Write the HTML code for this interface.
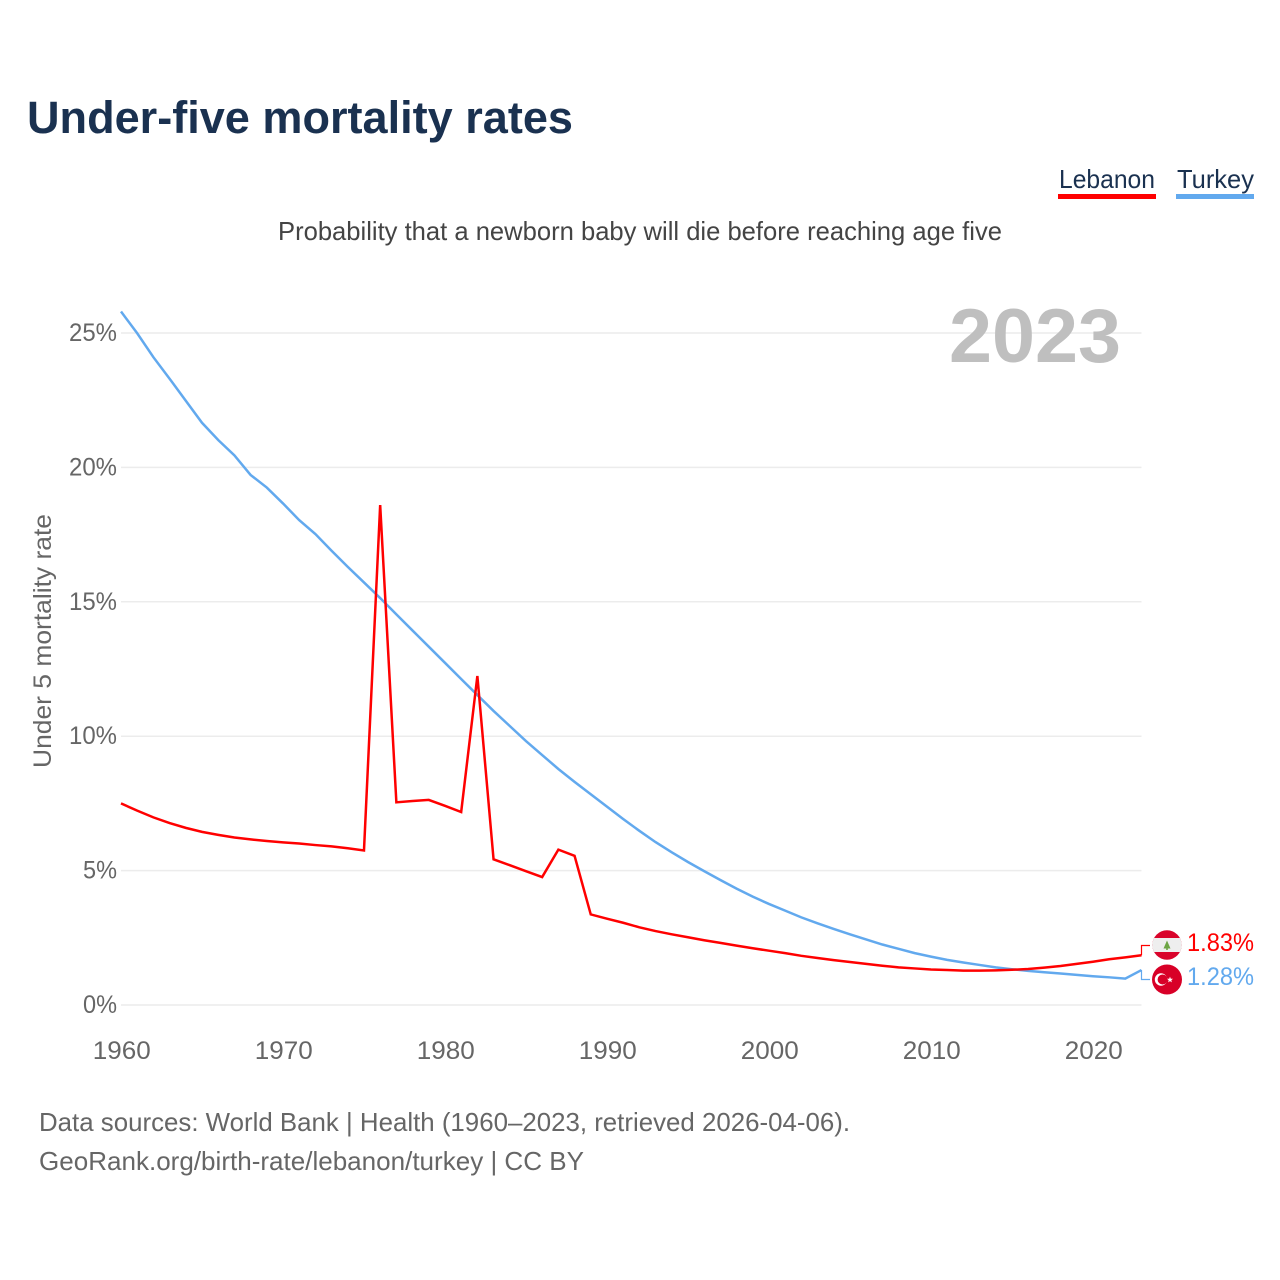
<!DOCTYPE html>
<html lang="en">
<head>
<meta charset="utf-8">
<title>Under-five mortality rates</title>
<style>
html,body{margin:0;padding:0;background:#fff;}
svg{display:block;font-family:"Liberation Sans",sans-serif;}
</style>
</head>
<body>
<svg id="chart" width="1280" height="1280" viewBox="0 0 1280 1280" xmlns="http://www.w3.org/2000/svg">
  <rect x="0" y="0" width="1280" height="1280" fill="#fff"/>
  <text x="27" y="133" font-size="45" font-weight="700" fill="#1a3150" textLength="546" lengthAdjust="spacingAndGlyphs">Under-five mortality rates</text>
  <g>
    <text x="1059" y="188" font-size="26" fill="#1a3150" textLength="96" lengthAdjust="spacingAndGlyphs">Lebanon</text>
    <rect x="1058" y="194" width="98" height="5" fill="#ff0000"/>
  </g>
  <g>
    <text x="1177" y="188" font-size="26" fill="#1a3150" textLength="77" lengthAdjust="spacingAndGlyphs">Turkey</text>
    <rect x="1176" y="194" width="78" height="5" fill="#62a9ee"/>
  </g>
  <text x="278" y="240" font-size="26" fill="#444" textLength="724" lengthAdjust="spacingAndGlyphs">Probability that a newborn baby will die before reaching age five</text>
  <g id="grid"></g>
  <text x="949" y="362" font-size="76" font-weight="700" fill="#bfbfbf" textLength="172" lengthAdjust="spacingAndGlyphs">2023</text>
  <g id="yTicks"></g>
  <g id="xTicks"></g>
  <text transform="translate(51,768) rotate(-90)" x="0" y="0" font-size="25" fill="#666" textLength="254" lengthAdjust="spacingAndGlyphs">Under 5 mortality rate</text>
  <path id="lineTurkey" fill="none" stroke="#62a9ee" stroke-width="2.5" stroke-linejoin="miter"/>
  <path id="lineLebanon" fill="none" stroke="#ff0000" stroke-width="2.5" stroke-linejoin="miter"/>
  <path id="leaderLebanon" fill="none" stroke="#ff0000" stroke-width="1.2"/>
  <path id="leaderTurkey" fill="none" stroke="#62a9ee" stroke-width="1.2"/>
  <defs>
    <clipPath id="lbClip"><circle cx="1167" cy="945" r="14.7"/></clipPath>
  </defs>
  <g clip-path="url(#lbClip)">
    <rect x="1150" y="930" width="34" height="30" fill="#d9042b"/>
    <rect x="1150" y="938" width="34" height="14" fill="#eeeeee"/>
    <path d="M1167 940.5 L1170.5 948.5 L1167.8 948.5 L1167.8 950 L1166.2 950 L1166.2 948.5 L1163.5 948.5 Z" fill="#6da544"/>
  </g>
  <g>
    <circle cx="1167" cy="979.5" r="15" fill="#d80027"/>
    <circle cx="1161" cy="979.5" r="6.2" fill="#fff"/>
    <circle cx="1162.6" cy="979.5" r="5" fill="#d80027"/>
    <path d="M1170 976.6 L1170.8 978.7 L1173 978.8 L1171.3 980.2 L1171.9 982.4 L1170 981.1 L1168.1 982.4 L1168.7 980.2 L1167 978.8 L1169.2 978.7 Z" fill="#fff"/>
  </g>
  <text x="1187" y="951" font-size="25" fill="#ff0000" textLength="67" lengthAdjust="spacingAndGlyphs">1.83%</text>
  <text x="1187" y="985" font-size="25" fill="#62a9ee" textLength="67" lengthAdjust="spacingAndGlyphs">1.28%</text>
  <text x="39" y="1131" font-size="26" fill="#666" textLength="811" lengthAdjust="spacingAndGlyphs">Data sources: World Bank | Health (1960–2023, retrieved 2026-04-06).</text>
  <text x="39" y="1170" font-size="26" fill="#666" textLength="545" lengthAdjust="spacingAndGlyphs">GeoRank.org/birth-rate/lebanon/turkey | CC BY</text>
</svg>
<script>
const startYear = 1960;
const lebanonValues = [7.50,7.23,6.98,6.77,6.59,6.44,6.33,6.23,6.16,6.10,6.05,6.01,5.95,5.90,5.83,5.75,18.6,7.54,7.59,7.63,7.41,7.18,12.24,5.42,5.20,4.98,4.76,5.78,5.55,3.37,3.21,3.06,2.89,2.75,2.63,2.52,2.41,2.31,2.21,2.11,2.02,1.93,1.83,1.75,1.67,1.60,1.53,1.46,1.40,1.36,1.32,1.30,1.28,1.28,1.29,1.31,1.34,1.39,1.45,1.53,1.61,1.70,1.77,1.85];
const turkeyValues = [25.8,24.99,24.1,23.3,22.48,21.66,21.02,20.45,19.72,19.25,18.66,18.04,17.52,16.9,16.3,15.72,15.14,14.53,13.93,13.33,12.73,12.13,11.53,10.94,10.38,9.82,9.3,8.78,8.30,7.84,7.38,6.92,6.48,6.06,5.68,5.32,4.98,4.65,4.33,4.03,3.76,3.51,3.26,3.04,2.83,2.63,2.44,2.25,2.09,1.93,1.80,1.68,1.58,1.49,1.40,1.33,1.27,1.22,1.17,1.12,1.07,1.03,0.98,1.30];
const yTickValues = [0,5,10,15,20,25];
const xTickValues = [1960,1970,1980,1990,2000,2010,2020];

const NS = 'http://www.w3.org/2000/svg';
const xScale = function (year) { return 121 + (year - 1960) * (1141.5 - 121) / 63; };
const yScale = function (v) { return 1005 - v * 26.88; };

const gridGroup = document.getElementById('grid');
const yGroup = document.getElementById('yTicks');
const xGroup = document.getElementById('xTicks');

yTickValues.forEach(function (v) {
  const line = document.createElementNS(NS, 'line');
  
  
  line.setAttribute('x1', 121);
  line.setAttribute('x2', 1141.5);
  line.setAttribute('y1', yScale(v));
  line.setAttribute('y2', yScale(v));
  line.setAttribute('stroke', '#ececec');
  line.setAttribute('stroke-width', '1.5');
  gridGroup.appendChild(line);

  const label = document.createElementNS(NS, 'text');
  
  
  const str = v + '%';
  label.textContent = str;
  label.setAttribute('x', 117);
  label.setAttribute('y', yScale(v) + 8);
  label.setAttribute('text-anchor', 'end');
  label.setAttribute('font-size', '25');
  label.setAttribute('fill', '#666');
  label.setAttribute('textLength', str.length === 3 ? 48 : 34);
  label.setAttribute('lengthAdjust', 'spacingAndGlyphs');
  yGroup.appendChild(label);
});

xTickValues.forEach(function (year) {
  const label = document.createElementNS(NS, 'text');
  
  
  label.textContent = String(year);
  label.setAttribute('x', xScale(year) + 0.8);
  label.setAttribute('y', 1059);
  label.setAttribute('text-anchor', 'middle');
  label.setAttribute('font-size', '25');
  label.setAttribute('fill', '#666');
  label.setAttribute('textLength', 58);
  label.setAttribute('lengthAdjust', 'spacingAndGlyphs');
  xGroup.appendChild(label);
});

const toPath = function (values) {
  return values.map(function (v, i) {
    return (i === 0 ? 'M' : 'L') + xScale(startYear + i).toFixed(2) + ' ' + yScale(v).toFixed(2);
  }).join(' ');
};

document.getElementById('lineLebanon').setAttribute('d', toPath(lebanonValues));
document.getElementById('lineTurkey').setAttribute('d', toPath(turkeyValues));

const endX = xScale(startYear + lebanonValues.length - 1);
document.getElementById('leaderLebanon').setAttribute('d',
  'M' + endX + ' ' + yScale(lebanonValues[lebanonValues.length - 1]) + ' L' + endX + ' 945.5 L1150 945.5');
document.getElementById('leaderTurkey').setAttribute('d',
  'M' + endX + ' ' + yScale(turkeyValues[turkeyValues.length - 1]) + ' L' + endX + ' 979.5 L1150 979.5');
</script>
</body>
</html>
